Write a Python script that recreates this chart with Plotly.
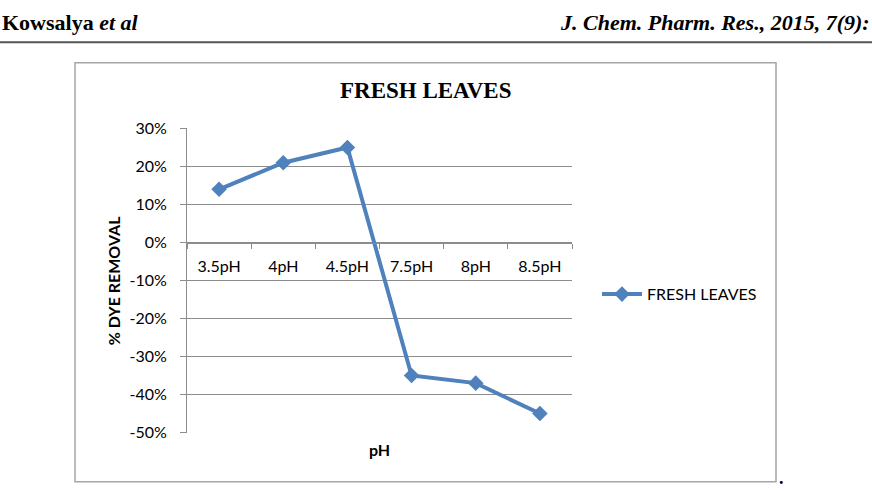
import plotly.graph_objects as go

categories = ["3.5pH", "4pH", "4.5pH", "7.5pH", "8pH", "8.5pH"]
removal = [0.14, 0.21, 0.25, -0.35, -0.37, -0.45]
series_name = "FRESH LEAVES"
y_ticks = [0.3, 0.2, 0.1, 0.0, -0.1, -0.2, -0.3, -0.4, -0.5]
y_tick_labels = [f"{round(v * 100)}%" for v in y_ticks]

W, H = 872, 492
# observed vertical mapping of the renderer: shown_y = 9.5 + 0.959 * fig_y
def vy(ref_y):
    return (ref_y - 9.5) / 0.959

def py(ref_y):
    return 1 - vy(ref_y) / H

px_l, px_r, px_t, px_b = 187, 572, 127.7, 431
ymin, ymax = -0.5, 0.3

dx0, dx1 = px_l / W, px_r / W
dy0, dy1 = py(px_b), py(px_t)
zero_pos = dy0 + (0 - ymin) / (ymax - ymin) * (dy1 - dy0)

BLUE = "#4F81BD"
GRID = "#8C8C8C"
SANS = "Lato, 'Open Sans', sans-serif"
SERIF = "'Liberation Serif', 'Times New Roman', serif"

fig = go.Figure()
fig.add_trace(go.Scatter(
    x=categories, y=removal, name=series_name, mode="lines+markers",
    line=dict(color=BLUE, width=4),
    marker=dict(symbol="diamond", size=12, color=BLUE),
))

fig.update_layout(
    width=W, height=H,
    margin=dict(l=0, r=0, t=0, b=0),
    paper_bgcolor="white", plot_bgcolor="white",
    showlegend=True,
    legend=dict(x=597 / W, y=py(293), xanchor="left", yanchor="middle",
                font=dict(family=SANS, size=16, color="#000"),
                bgcolor="rgba(0,0,0,0)", itemwidth=40),
    xaxis=dict(
        domain=[dx0, dx1], type="category", range=[-0.5, len(categories) - 0.5],
        anchor="free", position=zero_pos,
        showline=True, linecolor=GRID, linewidth=1,
        ticks="outside", tickson="boundaries", ticklen=5, tickcolor=GRID,
        ticklabelstandoff=9,
        tickfont=dict(family=SANS, size=16, color="#000"),
        showgrid=False, zeroline=False, fixedrange=True,
    ),
    yaxis=dict(
        domain=[dy0, dy1], range=[ymin, ymax],
        tickvals=y_ticks, ticktext=y_tick_labels,
        showline=True, linecolor=GRID, linewidth=1,
        ticks="outside", ticklen=6, tickcolor=GRID,
        ticklabelstandoff=10,
        showgrid=True, gridcolor=GRID, gridwidth=1,
        zeroline=False,
        tickfont=dict(family=SANS, size=16, color="#000"),
    ),
)

# chart frame
fig.add_shape(type="rect", xref="paper", yref="paper",
              x0=75 / W, x1=776 / W, y0=py(480), y1=py(62),
              line=dict(color="#A6A6A6", width=1.5), fillcolor="rgba(0,0,0,0)", layer="below")
# header rule
fig.add_shape(type="line", xref="paper", yref="paper",
              x0=0, x1=1, y0=py(41.7), y1=py(41.7),
              line=dict(color="#555555", width=2))

ann = []
ann.append(dict(text="<b>FRESH LEAVES</b>", x=425.5 / W, y=py(90), xref="paper", yref="paper",
                xanchor="center", yanchor="middle", showarrow=False,
                font=dict(family=SERIF, size=23, color="#000")))
ann.append(dict(text="<b>% DYE REMOVAL</b>", x=113 / W, y=py(280), xref="paper", yref="paper",
                xanchor="center", yanchor="middle", showarrow=False, textangle=-90,
                font=dict(family=SANS, size=16, color="#000")))
ann.append(dict(text="<b>pH</b>", x=379.5 / W, y=py(448), xref="paper", yref="paper",
                xanchor="center", yanchor="middle", showarrow=False,
                font=dict(family=SANS, size=16, color="#000")))
ann.append(dict(text="<b>Kowsalya <i>et al</i></b>", x=2 / W, y=1, xref="paper", yref="paper",
                xanchor="left", yanchor="top", showarrow=False, borderpad=0, borderwidth=0,
                font=dict(family=SERIF, size=22, color="#000")))
ann.append(dict(text="<b><i>J. Chem. Pharm. Res., 2015, 7(9):</i></b>", x=560 / W, y=1,
                xref="paper", yref="paper",
                xanchor="left", yanchor="top", showarrow=False, borderpad=0, borderwidth=0,
                font=dict(family=SERIF, size=22, color="#000")))
ann.append(dict(text="<b>.</b>", x=781 / W, y=py(476), xref="paper", yref="paper",
                xanchor="center", yanchor="middle", showarrow=False,
                font=dict(family=SERIF, size=18, color="#000")))
fig.update_layout(annotations=ann)

fig.write_html("out.html")
